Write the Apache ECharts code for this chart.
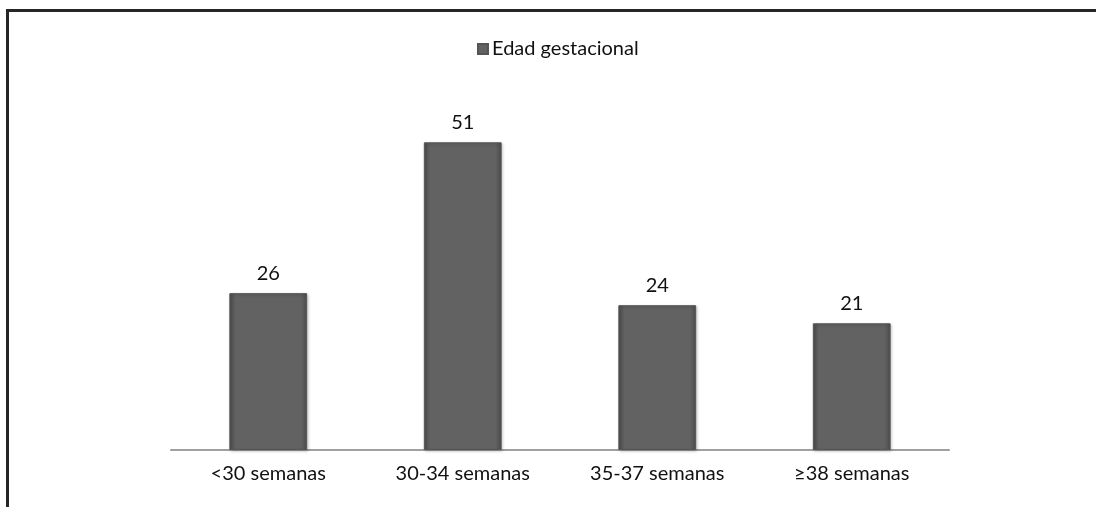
<!DOCTYPE html>
<html>
<head>
<meta charset="utf-8">
<script src="https://cdn.jsdelivr.net/npm/echarts@6/dist/echarts.min.js"></script>
<style>
html,body{margin:0;padding:0;background:#fff;}
#chart{width:1096px;height:507px;}
</style>
</head>
<body>
<div id="chart"></div>
<script>
const categories = ['<30 semanas', '30-34 semanas', '35-37 semanas', '≥38 semanas'];
const seriesName = 'Edad gestacional';
const values = [26, 51, 24, 21];

const chart = echarts.init(document.getElementById('chart'));
const fontFamily = 'Lato, "Open Sans", sans-serif';
const barColor = {
  type: 'linear', x: 0, y: 0, x2: 1, y2: 0,
  colorStops: [
    {offset: 0, color: '#4c4c4c'},
    {offset: 0.08, color: '#626262'},
    {offset: 0.92, color: '#626262'},
    {offset: 1, color: '#4c4c4c'}
  ]
};
chart.setOption({
  backgroundColor: '#ffffff',
  animation: false,
  graphic: [
    {type: 'rect', shape: {x: 6, y: 9, width: 1090, height: 3}, style: {fill: '#262626'}},
    {type: 'rect', shape: {x: 6, y: 9, width: 3, height: 498}, style: {fill: '#262626'}}
  ],
  legend: {
    data: [seriesName],
    top: 34,
    left: 472,
    itemWidth: 10,
    itemHeight: 10,
    itemGap: 4,
    icon: 'rect',
    textStyle: {fontFamily: fontFamily, fontSize: 20, color: '#111', padding: [0, 0, 0, -1]}
  },
  grid: {left: 171, right: 147, top: 88, bottom: 57},
  xAxis: {
    type: 'category',
    data: categories,
    axisLine: {lineStyle: {color: '#a0a0a0', width: 2}},
    axisTick: {show: false},
    axisLabel: {fontFamily: fontFamily, fontSize: 20, color: '#111', margin: 14}
  },
  yAxis: {
    type: 'value',
    min: 0,
    max: 60,
    show: false,
    splitLine: {show: false}
  },
  series: [{
    name: seriesName,
    type: 'bar',
    data: values,
    barWidth: '40%',
    itemStyle: {
      color: barColor,
      borderColor: '#555',
      borderWidth: 1,
      shadowColor: 'rgba(0,0,0,0.25)',
      shadowBlur: 3,
      shadowOffsetX: 1,
      shadowOffsetY: 1
    },
    label: {
      show: true,
      position: 'top',
      distance: 10,
      fontFamily: fontFamily,
      fontSize: 20,
      color: '#111'
    }
  }]
});
</script>
</body>
</html>
